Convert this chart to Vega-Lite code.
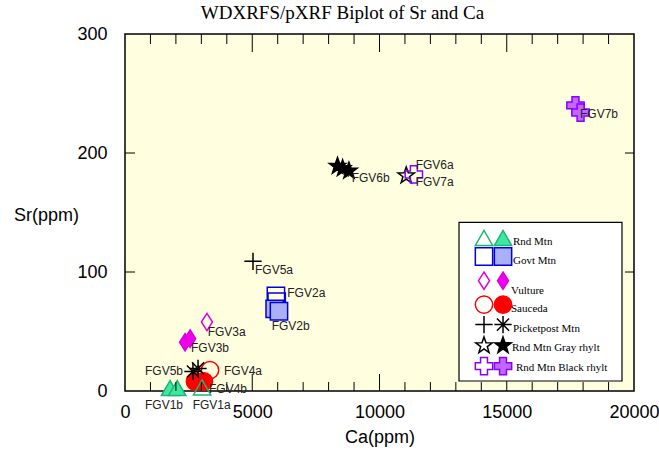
{
  "$schema": "https://vega.github.io/schema/vega-lite/v6.json",
  "width": 509,
  "height": 357,
  "autosize": "none",
  "padding": {"left": 125, "top": 34, "right": 25, "bottom": 60},
  "background": "white",
  "title": {"text": "WDXRFS/pXRF Biplot of Sr and Ca", "font": "Liberation Serif", "fontSize": 19, "fontWeight": "normal", "color": "black", "anchor": "middle", "dx": -37, "offset": -13, "baseline": "alphabetic"},
  "config": {
    "view": {"stroke": "black", "strokeWidth": 1.5, "fill": "#ffffe0"},
    "axis": {"labelFont": "Liberation Sans", "titleFont": "Liberation Sans", "labelColor": "black", "titleColor": "black", "grid": false, "domain": false}
  },
  "datasets": {
    "xminor": [{"v": 1000}, {"v": 2000}, {"v": 3000}, {"v": 4000}, {"v": 6000}, {"v": 7000}, {"v": 8000}, {"v": 9000}, {"v": 11000}, {"v": 12000}, {"v": 13000}, {"v": 14000}, {"v": 16000}, {"v": 17000}, {"v": 18000}, {"v": 19000}],
    "xmajor": [{"v": 5000}, {"v": 10000}, {"v": 15000}],
    "ymid": [{"v": 100}, {"v": 200}],
    "pts": [
      {"sample": "FGV2a", "sym": "sq_o", "ca": 5930, "sr": 80},
      {"sample": "FGV2a", "sym": "sq_o", "ca": 5960, "sr": 75},
      {"sample": "FGV2b", "sym": "sq_f", "ca": 5880, "sr": 69},
      {"sample": "FGV2b", "sym": "sq_f", "ca": 6050, "sr": 67},
      {"sample": "FGV3a", "sym": "dia_o", "ca": 3220, "sr": 58},
      {"sample": "FGV3b", "sym": "dia_f", "ca": 2360, "sr": 41},
      {"sample": "FGV3b", "sym": "dia_f", "ca": 2560, "sr": 44},
      {"sample": "FGV4a", "sym": "cir_o", "ca": 3340, "sr": 17.5},
      {"sample": "FGV4b", "sym": "cir_f", "ca": 2750, "sr": 8},
      {"sample": "FGV4b", "sym": "cir_f", "ca": 3100, "sr": 8},
      {"sample": "FGV5a", "sym": "plus", "ca": 5030, "sr": 109},
      {"sample": "FGV5b", "sym": "ast", "ca": 2670, "sr": 16.4},
      {"sample": "FGV5b", "sym": "ast", "ca": 2870, "sr": 19},
      {"sample": "FGV1b", "sym": "tri_f", "ca": 1770, "sr": 2.5},
      {"sample": "FGV1b", "sym": "tri_f", "ca": 2050, "sr": 2.5},
      {"sample": "FGV1a", "sym": "tri_o", "ca": 3030, "sr": 3},
      {"sample": "FGV6b", "sym": "star_f", "ca": 8350, "sr": 189},
      {"sample": "FGV6b", "sym": "star_f", "ca": 8550, "sr": 187},
      {"sample": "FGV6b", "sym": "star_f", "ca": 8800, "sr": 185},
      {"sample": "FGV6a", "sym": "star_o", "ca": 11050, "sr": 181},
      {"sample": "FGV7a", "sym": "crs_o", "ca": 11350, "sr": 182},
      {"sample": "FGV7b", "sym": "crs_f", "ca": 17700, "sr": 240},
      {"sample": "FGV7b", "sym": "crs_f", "ca": 17900, "sr": 234}
    ],
    "labs": [
      {"text": "FGV7b", "ca": 17878, "sr": 233},
      {"text": "FGV6a", "ca": 11422, "sr": 189.5},
      {"text": "FGV7a", "ca": 11422, "sr": 175.5},
      {"text": "FGV6b", "ca": 8907, "sr": 179},
      {"text": "FGV5a", "ca": 5108, "sr": 102},
      {"text": "FGV2a", "ca": 6377, "sr": 82.5},
      {"text": "FGV2b", "ca": 5764, "sr": 55},
      {"text": "FGV3a", "ca": 3249, "sr": 50},
      {"text": "FGV3b", "ca": 2593, "sr": 36.5},
      {"text": "FGV5b", "ca": 786, "sr": 16.4},
      {"text": "FGV4a", "ca": 3890, "sr": 16.4},
      {"text": "FGV4b", "ca": 3300, "sr": 2},
      {"text": "FGV1b", "ca": 786, "sr": -11.5},
      {"text": "FGV1a", "ca": 2660, "sr": -11.5}
    ],
    "legbox": [{"x1": 13124, "x2": 19528, "y1": 8.4, "y2": 141.7}],
    "legsym": [
      {"sym": "tri_o", "ca": 14106, "sr": 128.6},
      {"sym": "tri_f", "ca": 14853, "sr": 128.6},
      {"sym": "sq_o", "ca": 14106, "sr": 113.0},
      {"sym": "sq_f", "ca": 14853, "sr": 113.0},
      {"sym": "dia_o", "ca": 14106, "sr": 92.7},
      {"sym": "dia_f", "ca": 14853, "sr": 92.7},
      {"sym": "cir_o", "ca": 14106, "sr": 72.6},
      {"sym": "cir_f", "ca": 14853, "sr": 72.6},
      {"sym": "plus", "ca": 14106, "sr": 55.8},
      {"sym": "ast", "ca": 14853, "sr": 55.8},
      {"sym": "star_o", "ca": 14106, "sr": 38.2},
      {"sym": "star_f", "ca": 14853, "sr": 38.2},
      {"sym": "crs_o", "ca": 14106, "sr": 20.9},
      {"sym": "crs_f", "ca": 14853, "sr": 20.9}
    ],
    "legtxt": [
      {"label": "Rnd Mtn", "ca": 15245, "sr": 124.9},
      {"label": "Govt Mtn", "ca": 15245, "sr": 108.9},
      {"label": "Vulture", "ca": 15167, "sr": 84.3},
      {"label": "Sauceda", "ca": 15167, "sr": 69},
      {"label": "Picketpost Mtn", "ca": 15245, "sr": 52.2},
      {"label": "Rnd Mtn Gray rhylt", "ca": 15206, "sr": 36.2},
      {"label": "Rnd Mtn Black rhylt", "ca": 15363, "sr": 19.5}
    ]
  },
  "resolve": {"scale": {"x": "independent", "y": "independent"}, "axis": {"x": "independent", "y": "independent"}},
  "layer": [
    {
      "data": {"name": "pts"},
      "mark": {"type": "point", "filled": true, "strokeWidth": 1.5, "opacity": 1},
      "encoding": {
        "x": {"field": "ca", "type": "quantitative", "scale": {"domain": [0, 20000], "nice": false, "zero": false},
          "axis": {"orient": "bottom", "values": [0, 5000, 10000, 15000, 20000], "ticks": false, "labelPadding": 12, "labelFontSize": 18, "labelFlush": false, "labelOverlap": false, "format": "d", "title": "Ca(ppm)", "titleFontSize": 18, "titleFontWeight": "normal", "titleY": 46, "titleBaseline": "middle"}},
        "y": {"field": "sr", "type": "quantitative", "scale": {"domain": [0, 300], "nice": false, "zero": false},
          "axis": {"orient": "left", "values": [0, 100, 200, 300], "ticks": false, "labelPadding": 18, "labelFontSize": 18, "labelFlush": false, "labelOverlap": false, "title": "Sr(ppm)", "titleFontSize": 18, "titleFontWeight": "normal", "titleAngle": 0, "titleX": -79, "titleY": 181, "titleAlign": "center", "titleBaseline": "middle"}},
        "shape": {"field": "sym", "type": "nominal", "legend": null, "scale": {
          "domain": ["tri_o", "tri_f", "sq_o", "sq_f", "dia_o", "dia_f", "cir_o", "cir_f", "plus", "ast", "star_o", "star_f", "crs_o", "crs_f"],
          "range": ["triangle-up", "triangle-up", "square", "square", "M0,-1L0.64,0L0,1L-0.64,0Z", "M0,-1L0.64,0L0,1L-0.64,0Z", "circle", "circle", "M-1,0L1,0M0,-1L0,1", "M-1,0L1,0M0,-1L0,1M-0.7,-0.7L0.7,0.7M-0.7,0.7L0.7,-0.7", "M0,-1L0.235,-0.324L0.951,-0.309L0.380,0.124L0.588,0.809L0,0.4L-0.588,0.809L-0.380,0.124L-0.951,-0.309L-0.235,-0.324Z", "M0,-1L0.235,-0.324L0.951,-0.309L0.380,0.124L0.588,0.809L0,0.4L-0.588,0.809L-0.380,0.124L-0.951,-0.309L-0.235,-0.324Z", "cross", "cross"]}},
        "fill": {"field": "sym", "type": "nominal", "legend": null, "scale": {
          "domain": ["tri_o", "tri_f", "sq_o", "sq_f", "dia_o", "dia_f", "cir_o", "cir_f", "plus", "ast", "star_o", "star_f", "crs_o", "crs_f"],
          "range": ["transparent", "#3de8a0", "transparent", "#aab0f5", "transparent", "#ee00ee", "transparent", "#ff0000", "transparent", "transparent", "transparent", "#000000", "transparent", "#c266ff"]}},
        "stroke": {"field": "sym", "type": "nominal", "legend": null, "scale": {
          "domain": ["tri_o", "tri_f", "sq_o", "sq_f", "dia_o", "dia_f", "cir_o", "cir_f", "plus", "ast", "star_o", "star_f", "crs_o", "crs_f"],
          "range": ["#1fb573", "#1fb573", "#0000dd", "#0000dd", "#dd00dd", "#dd00dd", "#ff0000", "#ff0000", "#000000", "#000000", "#000000", "#000000", "#8800ff", "#8800ff"]}},
        "size": {"field": "sym", "type": "nominal", "legend": null, "scale": {
          "domain": ["tri_o", "tri_f", "sq_o", "sq_f", "dia_o", "dia_f", "cir_o", "cir_f", "plus", "ast", "star_o", "star_f", "crs_o", "crs_f"],
          "range": [300, 300, 280, 280, 484, 484, 180, 180, 256, 225, 250, 250, 256, 256]}}
      }
    },
    {
      "data": {"name": "xminor"},
      "mark": {"type": "rule", "color": "black", "strokeWidth": 1},
      "encoding": {
        "x": {"field": "v", "type": "quantitative", "scale": {"domain": [0, 20000], "nice": false, "zero": false}, "axis": null},
        "y": {"datum": 0, "type": "quantitative", "scale": {"domain": [0, 300], "nice": false, "zero": false}, "axis": null},
        "y2": {"datum": 7.5}
      }
    },
    {
      "data": {"name": "xminor"},
      "mark": {"type": "rule", "color": "black", "strokeWidth": 1},
      "encoding": {
        "x": {"field": "v", "type": "quantitative", "scale": {"domain": [0, 20000], "nice": false, "zero": false}, "axis": null},
        "y": {"datum": 300, "type": "quantitative", "scale": {"domain": [0, 300], "nice": false, "zero": false}, "axis": null},
        "y2": {"datum": 291.6}
      }
    },
    {
      "data": {"name": "xmajor"},
      "mark": {"type": "rule", "color": "black", "strokeWidth": 1},
      "encoding": {
        "x": {"field": "v", "type": "quantitative", "scale": {"domain": [0, 20000], "nice": false, "zero": false}, "axis": null},
        "y": {"datum": 0, "type": "quantitative", "scale": {"domain": [0, 300], "nice": false, "zero": false}, "axis": null},
        "y2": {"datum": 14.3}
      }
    },
    {
      "data": {"name": "xmajor"},
      "mark": {"type": "rule", "color": "black", "strokeWidth": 1},
      "encoding": {
        "x": {"field": "v", "type": "quantitative", "scale": {"domain": [0, 20000], "nice": false, "zero": false}, "axis": null},
        "y": {"datum": 300, "type": "quantitative", "scale": {"domain": [0, 300], "nice": false, "zero": false}, "axis": null},
        "y2": {"datum": 284.9}
      }
    },
    {
      "data": {"name": "ymid"},
      "mark": {"type": "rule", "color": "black", "strokeWidth": 1},
      "encoding": {
        "y": {"field": "v", "type": "quantitative", "scale": {"domain": [0, 300], "nice": false, "zero": false}, "axis": null},
        "x": {"datum": 0, "type": "quantitative", "scale": {"domain": [0, 20000], "nice": false, "zero": false}, "axis": null},
        "x2": {"datum": 393}
      }
    },
    {
      "data": {"name": "ymid"},
      "mark": {"type": "rule", "color": "black", "strokeWidth": 1},
      "encoding": {
        "y": {"field": "v", "type": "quantitative", "scale": {"domain": [0, 300], "nice": false, "zero": false}, "axis": null},
        "x": {"datum": 20000, "type": "quantitative", "scale": {"domain": [0, 20000], "nice": false, "zero": false}, "axis": null},
        "x2": {"datum": 19646}
      }
    },
    {
      "data": {"name": "labs"},
      "mark": {"type": "text", "font": "Liberation Sans", "fontSize": 12, "align": "left", "baseline": "middle", "color": "#222222"},
      "encoding": {
        "x": {"field": "ca", "type": "quantitative", "scale": {"domain": [0, 20000], "nice": false, "zero": false}, "axis": null},
        "y": {"field": "sr", "type": "quantitative", "scale": {"domain": [0, 300], "nice": false, "zero": false}, "axis": null},
        "text": {"field": "text", "type": "nominal"}
      }
    },
    {
      "data": {"name": "legbox"},
      "mark": {"type": "rect", "fill": "white", "stroke": "black", "strokeWidth": 1.2},
      "encoding": {
        "x": {"field": "x1", "type": "quantitative", "scale": {"domain": [0, 20000], "nice": false, "zero": false}, "axis": null},
        "x2": {"field": "x2"},
        "y": {"field": "y1", "type": "quantitative", "scale": {"domain": [0, 300], "nice": false, "zero": false}, "axis": null},
        "y2": {"field": "y2"}
      }
    },
    {
      "data": {"name": "legsym"},
      "mark": {"type": "point", "filled": true, "strokeWidth": 1.5, "opacity": 1},
      "encoding": {
        "x": {"field": "ca", "type": "quantitative", "scale": {"domain": [0, 20000], "nice": false, "zero": false}, "axis": null},
        "y": {"field": "sr", "type": "quantitative", "scale": {"domain": [0, 300], "nice": false, "zero": false}, "axis": null},
        "shape": {"field": "sym", "type": "nominal", "legend": null},
        "fill": {"field": "sym", "type": "nominal", "legend": null},
        "stroke": {"field": "sym", "type": "nominal", "legend": null},
        "size": {"field": "sym", "type": "nominal", "legend": null}
      }
    },
    {
      "data": {"name": "legtxt"},
      "mark": {"type": "text", "font": "Liberation Serif", "fontSize": 11, "align": "left", "baseline": "middle", "color": "black"},
      "encoding": {
        "x": {"field": "ca", "type": "quantitative", "scale": {"domain": [0, 20000], "nice": false, "zero": false}, "axis": null},
        "y": {"field": "sr", "type": "quantitative", "scale": {"domain": [0, 300], "nice": false, "zero": false}, "axis": null},
        "text": {"field": "label", "type": "nominal"}
      }
    }
  ]
}
